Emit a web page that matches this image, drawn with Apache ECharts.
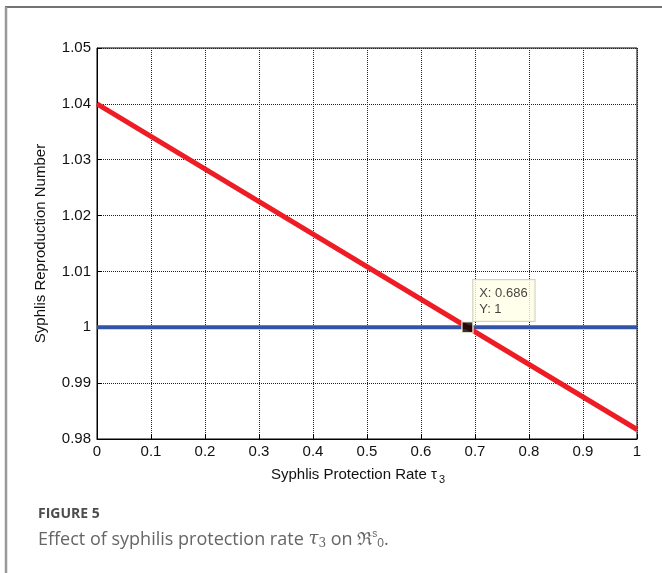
<!DOCTYPE html>
<html>
<head>
<meta charset="utf-8">
<script src="https://cdn.jsdelivr.net/npm/echarts@6/dist/echarts.min.js"></script>
<style>
  html, body { margin: 0; padding: 0; background: #fff; }
  #main { width: 662px; height: 573px; }
</style>
</head>
<body>
<div id="main"></div>
<script>
// protection rate tau3 vs reproduction number
var rateX = [0, 1];
var reproY = [1.04, 0.9817];
var thresholdY = [1, 1];
var tipPoint = [0.686, 1];
var xTicks = [0, 0.1, 0.2, 0.3, 0.4, 0.5, 0.6, 0.7, 0.8, 0.9, 1];
var yTicks = [0.98, 0.99, 1, 1.01, 1.02, 1.03, 1.04, 1.05];

var myChart = echarts.init(document.getElementById('main'));

var redData = rateX.map(function (x, i) { return [x, reproY[i]]; });
var blueData = rateX.map(function (x, i) { return [x, thresholdY[i]]; });

var tickFont = { color: '#111', fontSize: 15, fontFamily: 'Liberation Sans, Arial, sans-serif' };

var option = {
  animation: false,
  backgroundColor: '#fff',
  grid: {
    left: 97, top: 48, right: 25, bottom: 134,
    show: true, borderColor: '#000', borderWidth: 1
  },
  xAxis: {
    type: 'value',
    min: xTicks[0], max: xTicks[xTicks.length - 1], interval: 0.1,
    axisLine: { lineStyle: { color: '#000', width: 1 } },
    axisTick: { inside: true, length: 5, lineStyle: { color: '#000' } },
    axisLabel: Object.assign({ margin: 5 }, tickFont),
    splitLine: { show: true, lineStyle: { color: '#222', width: 1, type: [1, 1] } },
    name: 'Syphlis Protection Rate τ{sub|3}',
    nameLocation: 'middle',
    nameGap: 26,
    nameTextStyle: {
      color: '#111', fontSize: 15, fontFamily: 'Liberation Sans, Arial, sans-serif',
      padding: [0, 18, 0, 0],
      rich: { sub: { fontSize: 11, verticalAlign: 'bottom', padding: [9, 0, 0, 2], color: '#111' } }
    }
  },
  yAxis: {
    type: 'value',
    min: yTicks[0], max: yTicks[yTicks.length - 1], interval: 0.01,
    axisLine: { show: true, lineStyle: { color: '#000', width: 1 } },
    axisTick: { show: true, inside: true, length: 5, lineStyle: { color: '#000' } },
    axisLabel: Object.assign({ margin: 6, formatter: function (v) { return String(+v.toFixed(2)); } }, tickFont),
    splitLine: { show: true, lineStyle: { color: '#222', width: 1, type: [1, 1] } },
    name: 'Syphlis Reproduction Number',
    nameLocation: 'middle',
    nameGap: 49,
    nameTextStyle: { color: '#111', fontSize: 15, fontFamily: 'Liberation Sans, Arial, sans-serif' }
  },
  series: [
    {
      type: 'line',
      data: blueData,
      symbol: 'none',
      lineStyle: { color: '#3353a8', width: 4 },
      z: 3
    },
    {
      type: 'line',
      data: redData,
      symbol: 'none',
      lineStyle: { color: '#ee1c24', width: 5 },
      z: 4
    },
    {
      type: 'scatter',
      data: [tipPoint],
      symbol: 'rect',
      symbolSize: 11,
      itemStyle: { color: '#000', borderColor: '#fffbe0', borderWidth: 1.5 },
      z: 6,
      label: {
        show: true,
        position: [12, -41],
        align: 'left',
        verticalAlign: 'top',
        formatter: 'X: 0.686\nY: 1',
        color: '#111',
        fontSize: 13,
        lineHeight: 16,
        fontFamily: 'Liberation Sans, Arial, sans-serif',
        backgroundColor: '#ffffe6',
        borderColor: '#c8c8b0',
        borderWidth: 1,
        padding: [5, 7, 4, 6]
      }
    }
  ],
  graphic: [
    { type: 'line', shape: { x1: 5, y1: 7, x2: 662, y2: 7 }, style: { stroke: '#444', lineWidth: 1.5 } },
    { type: 'line', shape: { x1: 6, y1: 7, x2: 6, y2: 573 }, style: { stroke: '#999', lineWidth: 2.5 } },
    {
      type: 'text', left: 38, top: 507,
      style: { text: 'FIGURE 5', fill: '#4d4d4d', font: 'bold 14px "Open Sans", sans-serif' }
    },
    {
      type: 'text', left: 38, top: 529,
      style: {
        text: 'Effect of syphilis protection rate {it|τ}{sub|3} on ℜ{sup|s}{sub0|0}.',
        fill: '#666',
        font: '18px "Open Sans", sans-serif',
        rich: {
          it: { fontStyle: 'italic', fontSize: 18, fill: '#666', fontFamily: 'DejaVu Serif' },
          sub: { fontSize: 12, fill: '#666', fontFamily: 'DejaVu Serif', padding: [7, 0, 0, 0], verticalAlign: 'bottom' },
          sup: { fontSize: 10, fill: '#666', padding: [0, 0, 11, 0] },
          sub0: { fontSize: 12, fill: '#666', padding: [8, 0, 0, 0], verticalAlign: 'bottom' }
        }
      }
    }
  ]
};

myChart.setOption(option);
</script>
</body>
</html>
